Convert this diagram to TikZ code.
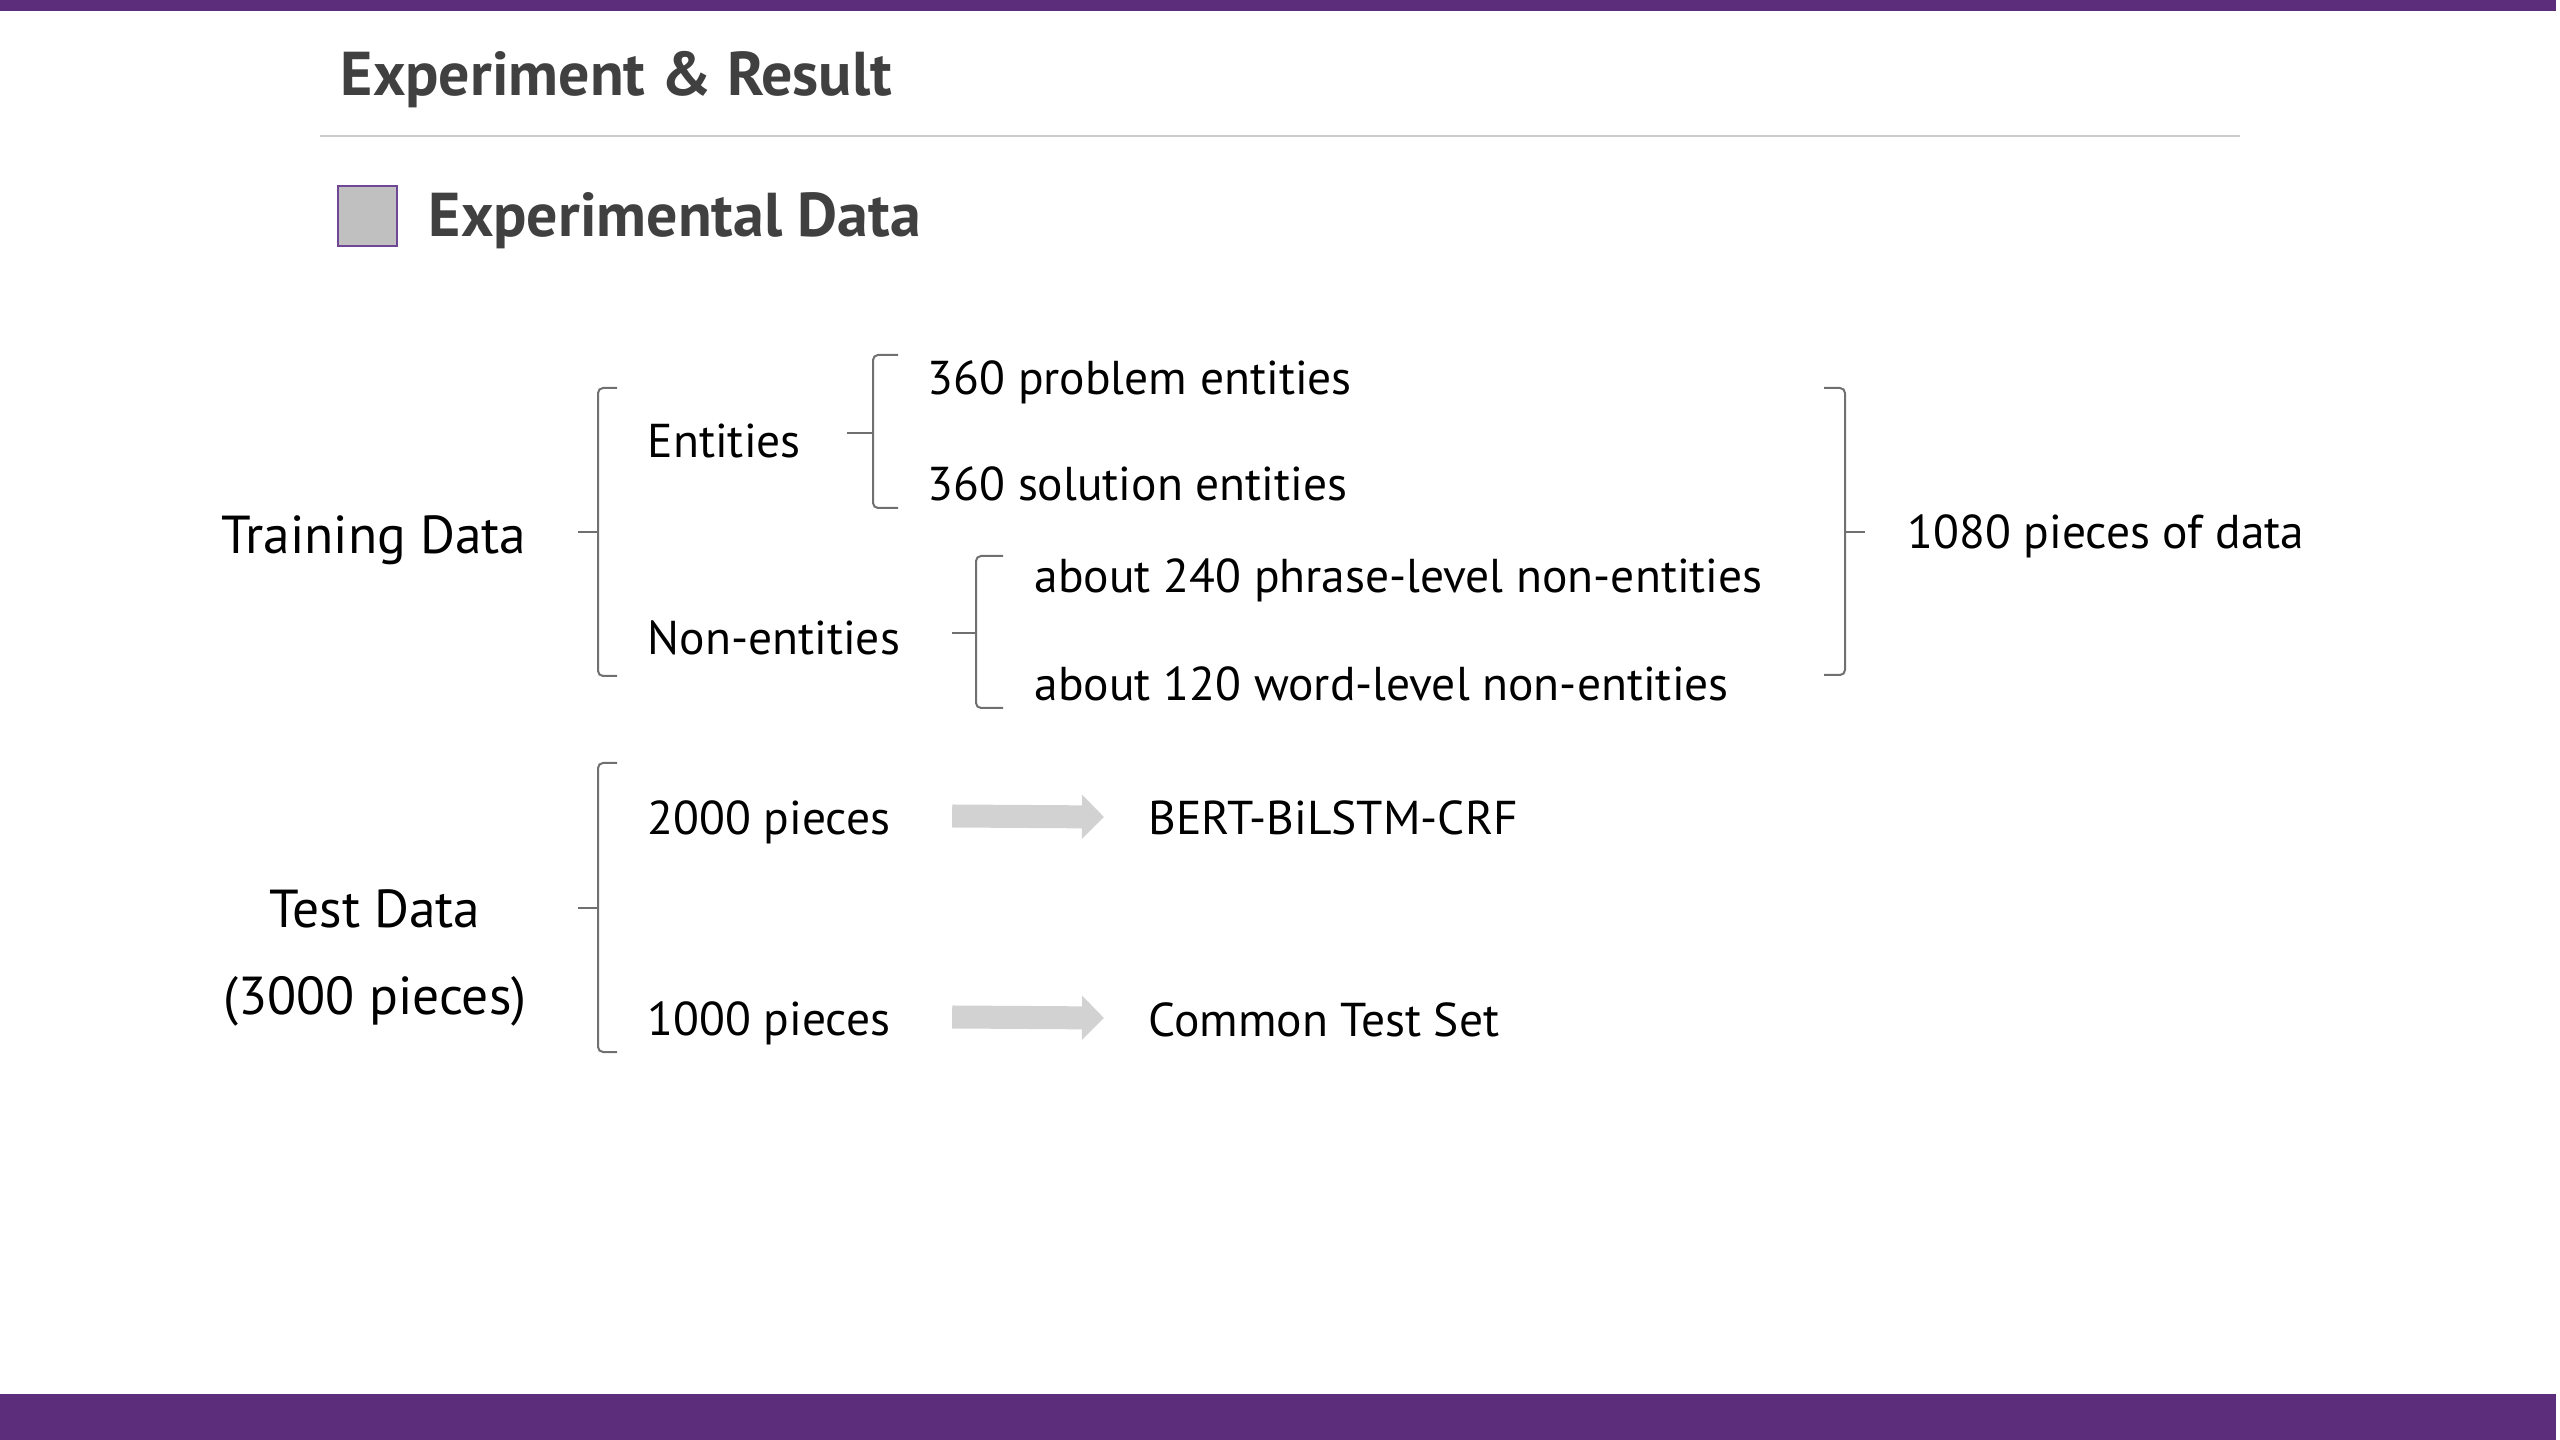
\documentclass[tikz,border=0pt]{standalone}
\usepackage{fontspec}
\setmainfont{PT Sans}
\usetikzlibrary{arrows.meta}
\definecolor{slidepurple}{RGB}{91,45,123}
\definecolor{boxpurple}{RGB}{112,70,150}
\definecolor{boxgray}{RGB}{192,192,192}
\definecolor{titlegray}{RGB}{64,64,64}
\definecolor{rulegray}{RGB}{204,204,204}
\definecolor{bracegray}{RGB}{112,112,112}
\definecolor{arrowgray}{RGB}{210,210,210}
\begin{document}
\begin{tikzpicture}[x=0.01cm,y=-0.01cm,
	txt/.style={font=\fontsize{13.5}{16}\selectfont,text=black,inner sep=0pt},
	lbl/.style={font=\fontsize{15.2}{18}\selectfont,text=black,inner sep=0pt},
	head/.style={font=\fontsize{17.6}{21}\selectfont\bfseries,text=titlegray,inner sep=0pt},
	brace/.style={draw=bracegray,line width=0.02cm,rounded corners=0.05cm},
	flow/.style={draw=arrowgray,line width=0.23cm,-{Triangle[length=0.22cm,width=0.43cm]}}
]

	\useasboundingbox (0,0) rectangle (2560,1440);
	\fill[slidepurple] (0,0) rectangle (2556,11);
	\fill[slidepurple] (0,1394) rectangle (2556,1440);

	\node[head,anchor=base west] (title) at (340,96) {Experiment \& Result};
	\draw[rulegray,line width=0.025cm] (320,136) -- (2240,136);
	\draw[boxpurple,fill=boxgray,line width=0.02cm] (338,186) rectangle (397,246);
	\node[head,anchor=base west] (section) at (428,237) {Experimental Data};

	\node[lbl,anchor=base] (train) at (374,554) {Training Data};
	\node[txt,anchor=base west] (ent) at (647,458) {Entities};
	\node[txt,anchor=base west] (nonent) at (647,655) {Non-entities};
	\node[txt,anchor=base west] (prob) at (927,395) {360 problem entities};
	\node[txt,anchor=base west] (sol) at (927,501) {360 solution entities};
	\node[txt,anchor=base west] (phrase) at (1034,593) {about 240 phrase-level non-entities};
	\node[txt,anchor=base west] (word) at (1034,701) {about 120 word-level non-entities};
	\node[txt,anchor=base west] (total) at (1907,549) {1080 pieces of data};

	\node[lbl,anchor=base] (test) at (375,928) {Test Data};
	\node[lbl,anchor=base] (testn) at (375,1014) {(3000 pieces)};
	\node[txt,anchor=base west] (p2000) at (647,834) {2000 pieces};
	\node[txt,anchor=base west] (p1000) at (647,1035) {1000 pieces};
	\node[txt,anchor=base west] (bert) at (1148,835) {BERT-BiLSTM-CRF};
	\node[txt,anchor=base west] (common) at (1148,1036) {Common Test Set};

	\draw[brace] (617,388) -- (598,388) -- (598,676) -- (617,676);
	\draw[brace] (598,532) -- (578,532);
	\draw[brace] (898,355) -- (873,355) -- (873,508) -- (898,508);
	\draw[brace] (873,433) -- (847,433);
	\draw[brace] (1003,556) -- (976,556) -- (976,708) -- (1003,708);
	\draw[brace] (976,633) -- (952,633);
	\draw[brace] (1824,388) -- (1845,388) -- (1845,675) -- (1824,675);
	\draw[brace] (1845,532) -- (1865,532);
	\draw[brace] (617,763) -- (598,763) -- (598,1052) -- (617,1052);
	\draw[brace] (598,908) -- (578,908);

	\draw[flow] ([xshift=3.05cm,yshift=0.18cm]p2000.base west) -- ([xshift=-0.44cm,yshift=0.18cm]bert.base west);
	\draw[flow] ([xshift=3.05cm,yshift=0.18cm]p1000.base west) -- ([xshift=-0.44cm,yshift=0.18cm]common.base west);

\end{tikzpicture}
\end{document}
